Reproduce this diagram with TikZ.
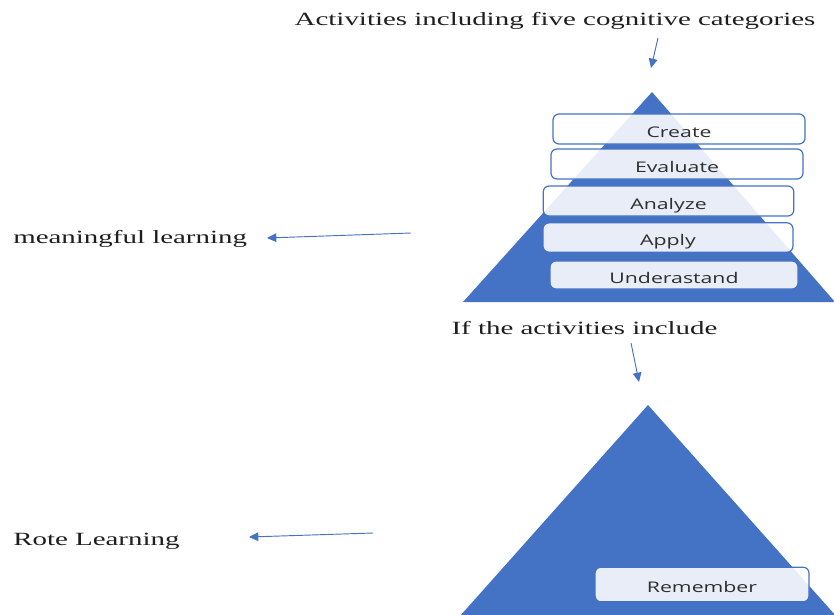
\documentclass[tikz,border=0pt]{standalone}
\usepackage{fontspec}
\setmainfont{Liberation Serif}
\newfontfamily\wideserif[FakeStretch=1.55]{Liberation Serif}
\newfontfamily\widesans[FakeStretch=1.45]{Open Sans}
\usetikzlibrary{arrows.meta}
\definecolor{pyblue}{HTML}{4472C4}
\definecolor{labgray}{HTML}{1E1E1E}
\definecolor{boxtext}{HTML}{2E2E2E}
\tikzset{
  px/.style={x=0.75pt,y=-0.75pt},
  lbl/.style={font=\wideserif\fontsize{14}{16}\selectfont, text=labgray, inner sep=0pt},
  lvl/.style={draw=pyblue, line width=0.9pt, rounded corners=4.5pt,
     fill=white, fill opacity=0.88, text opacity=1, text=boxtext,
     font=\widesans\fontsize{11}{12}\selectfont, inner sep=0pt,
     text height=12pt, text depth=0pt},
  conn/.style={draw=pyblue, line width=0.7pt, -{Triangle[length=7pt,width=6.5pt]}},
  pyr/.style={fill=pyblue, draw=none}
}
\begin{document}
\begin{tikzpicture}[px]
\useasboundingbox (0,0) rectangle (834,614);
% triangles
\coordinate (t1a) at (652,92);
\coordinate (t1l) at (463,302);
\coordinate (t1r) at (835,302);
\fill[pyr] (t1a) -- (t1l) -- (t1r) -- cycle;
\coordinate (t2a) at (648,405);
\coordinate (t2l) at (460,616);
\coordinate (t2r) at (836,616);
\fill[pyr] (t2a) -- (t2l) -- (t2r) -- cycle;
% level boxes
\node[lvl, minimum width=189pt, minimum height=22.5pt] (create) at (679,129) {Create};
\node[lvl, minimum width=189pt, minimum height=22.5pt] (evaluate) at (677,164) {Evaluate};
\node[lvl, minimum width=188pt, minimum height=22.5pt] (analyze) at (668.5,201) {Analyze};
\node[lvl, minimum width=187.5pt, minimum height=22pt] (apply) at (668,237.5) {Apply};
\node[lvl, minimum width=186pt, minimum height=21pt] (underst) at (674,275) {Underastand};
\node[lvl, minimum width=160.5pt, minimum height=26pt] (remember) at (702,584.5) {Remember};
% labels
\node[lbl] (act) at (555,21) {Activities including five cognitive categories};
\node[lbl] (ifact) at (584.5,328) {If the activities include};
\node[lbl, anchor=west] (meaning) at (13,239) {meaningful learning};
\node[lbl, anchor=west] (rote) at (13,541) {Rote Learning};
% connector endpoints
\coordinate (a1s) at (658,38);
\coordinate (a1e) at (651,68);
\coordinate (a2s) at (631,343);
\coordinate (a2e) at (639,382);
\coordinate (a3s) at (411,233);
\coordinate (a3e) at (267,238);
\coordinate (a4s) at (373,533);
\coordinate (a4e) at (249,537);
\draw[conn] (a1s) -- (a1e);
\draw[conn] (a2s) -- (a2e);
\draw[conn] (a3s) -- (a3e);
\draw[conn] (a4s) -- (a4e);
\end{tikzpicture}
\end{document}
